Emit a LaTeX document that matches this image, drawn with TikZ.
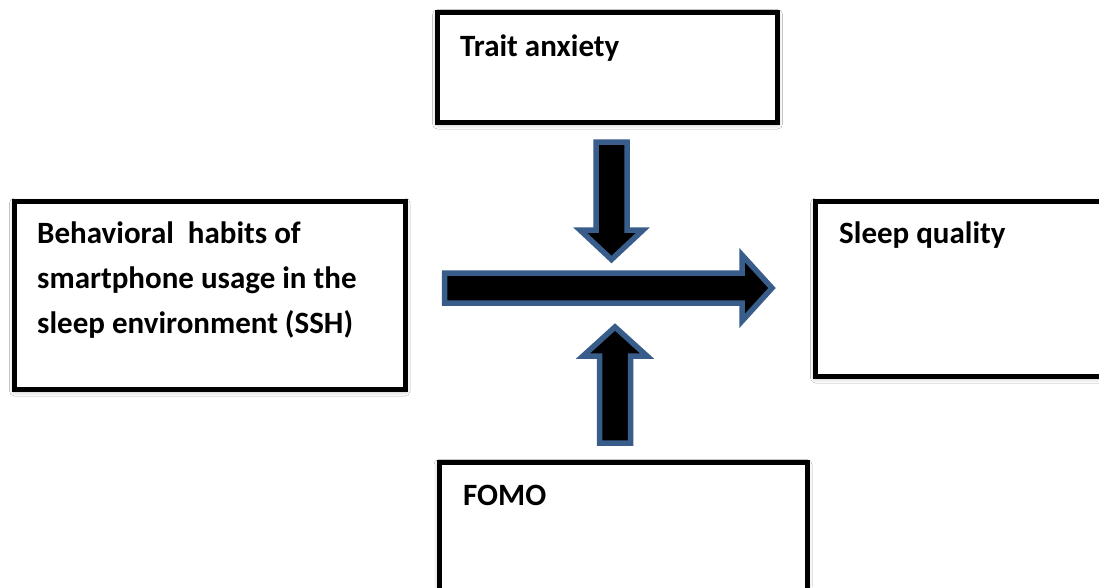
\documentclass[tikz,border=0pt]{standalone}
\usepackage{fontspec}
\setmainfont{Carlito}
\usetikzlibrary{shadows.blur}
\definecolor{arrowblue}{HTML}{385D8A}
\begin{document}
\begin{tikzpicture}[x=1pt,y=-1pt,
  box/.style={draw=black, line width=5pt, fill=white, rectangle, inner sep=0pt,
    blur shadow={shadow xshift=0pt, shadow yshift=-2pt, shadow blur radius=5pt, shadow opacity=35}},
  lbl/.style={anchor=base west, inner sep=0pt, font=\bfseries\fontsize{31}{45}\selectfont, align=left},
  blockarrow/.style={fill=black, draw=arrowblue, line width=5.5pt, line join=miter, miter limit=10}]
\useasboundingbox (0,0) rectangle (1099,587);
\clip (0,0) rectangle (1099,587);
\fill[white] (0,0) rectangle (1099,587);
% boxes
\node[box, minimum width=340pt, minimum height=109.5pt] (trait) at (607.5,67.25) {};
\node[box, minimum width=390.5pt, minimum height=188pt] (ssh) at (209.75,295) {};
\node[box, minimum width=294.5pt, minimum height=175pt] (sleep) at (962.75,288.5) {};
\node[box, minimum width=368pt, minimum height=137.5pt] (fomo) at (623,531.25) {};
% labels
\node[lbl] (traitlbl) at (460,56) {Trait anxiety};
\node[lbl] (sshlbl) at (37,333) {Behavioral\ \ habits of\\smartphone usage in the\\sleep environment\ (SSH)};
\node[lbl] (sleeplbl) at (839,243) {Sleep quality};
\node[lbl] (fomolbl) at (463,505) {FOMO};
% block arrows
\draw[blockarrow] (596,142) -- (627,142) -- (627,230) -- (643,230) -- (611.5,259.5) -- (580,230) -- (596,230) -- cycle;
\draw[blockarrow] (444.5,273) -- (742,273) -- (742,255) -- (772,288) -- (742,321) -- (742,303) -- (444.5,303) -- cycle;
\draw[blockarrow] (599.5,443) -- (630.5,443) -- (630.5,356) -- (647,356) -- (615,327) -- (583,356) -- (599.5,356) -- cycle;
\end{tikzpicture}
\end{document}
